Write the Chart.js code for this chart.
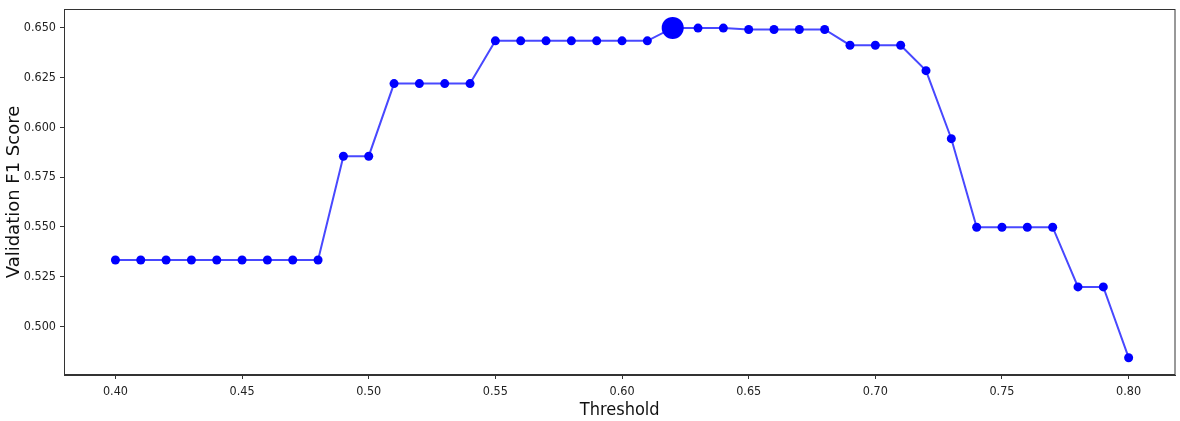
<!DOCTYPE html>
<html>
<head>
<meta charset="utf-8">
<script src="https://cdn.jsdelivr.net/npm/chart.js@4"></script>
<style>
  html, body { margin: 0; padding: 0; background: #fff; overflow: hidden; }
  canvas { display: block; }
</style>
</head>
<body>
<canvas id="f1" width="1180" height="421"></canvas>
<script>
const thresholds = [0.40,0.41,0.42,0.43,0.44,0.45,0.46,0.47,0.48,0.49,0.50,0.51,0.52,0.53,0.54,0.55,0.56,0.57,0.58,0.59,0.60,
  0.61,0.62,0.63,0.64,0.65,0.66,0.67,0.68,0.69,0.70,0.71,0.72,0.73,0.74,0.75,0.76,0.77,0.78,0.79,0.80]
const scores = [0.5333,0.5333,0.5333,0.5333,0.5333,0.5333,0.5333,0.5333,0.5333,0.5855,0.5855,
  0.622,0.622,0.622,0.622,0.6435,0.6435,0.6435,0.6435,0.6435,0.6435,0.6435,
  0.650,0.6499,0.6499,0.6492,0.6492,0.6492,0.6492,0.6413,0.6413,0.6413,0.6285,0.5943,
  0.5498,0.5498,0.5498,0.5498,0.5198,0.5198,0.4842]
const bestThreshold = 0.62
const xTicks = [0.40,0.45,0.50,0.55,0.60,0.65,0.70,0.75,0.80]
const yTicks = [0.500,0.525,0.550,0.575,0.600,0.625,0.650]

const frame = {
  id: 'frame',
  afterDraw(chart) {
    const a = chart.chartArea, c = chart.ctx
    c.save()
    c.strokeStyle = '#333'
    c.lineWidth = 1
    c.strokeRect(a.left + 0.5, a.top + 0.5, a.right - a.left - 1, a.bottom - a.top - 1)
    c.restore()
  }
}

const tickFont = { family: "'Liberation Sans Narrow', 'DejaVu Sans Condensed', 'Roboto Condensed', sans-serif", size: 12.5 }

const ctx = document.getElementById('f1')
new Chart(ctx, {
  type: 'line',
  data: {
    datasets: [{
      label: 'F1',
      data: thresholds.map((t, i) => ({ x: t, y: scores[i] })),
      borderColor: 'rgba(40, 40, 255, 0.85)',
      borderWidth: 2,
      pointBackgroundColor: '#0000ff',
      pointBorderColor: '#0000ff',
      pointBorderWidth: 0,
      pointRadius: thresholds.map(t => Math.abs(t - bestThreshold) < 1e-9 ? 11 : 4.5),
      tension: 0,
      fill: false
    }]
  },
  options: {
    responsive: false,
    animation: false,
    layout: { padding: { top: 9, right: 0, left: 0, bottom: 0 } },
    plugins: { legend: { display: false }, tooltip: { enabled: false } },
    scales: {
      x: {
        type: 'linear',
        min: 0.3797,
        max: 0.8185,
        afterBuildTicks: s => { s.ticks = xTicks.map(v => ({ value: v })) },
        afterFit: s => { s.height = 46; s.paddingRight = 0; s.paddingLeft = 0 },
        grid: { drawOnChartArea: false, drawTicks: true, tickLength: 4, color: '#333' },
        border: { color: '#333' },
        ticks: { color: '#222', font: tickFont, padding: 5, callback: v => v.toFixed(2) },
        title: { display: true, text: 'Threshold', color: '#111', padding: { top: 4, bottom: 0 },
          font: { family: "'Liberation Sans Narrow', 'DejaVu Sans Condensed', sans-serif", size: 18 } }
      },
      y: {
        min: 0.4755,
        max: 0.6595,
        afterBuildTicks: s => { s.ticks = yTicks.map(v => ({ value: v })) },
        afterFit: s => { s.width = 64; s.paddingTop = 0; s.paddingBottom = 0 },
        grid: { drawOnChartArea: false, drawTicks: true, tickLength: 4, color: '#333' },
        border: { color: '#333' },
        ticks: { color: '#222', font: tickFont, padding: 4, callback: v => v.toFixed(3) },
        title: { display: true, text: 'Validation F1 Score', color: '#111', padding: { bottom: 0, top: 4 },
          font: { family: "'DejaVu Sans', 'Verdana', sans-serif", size: 18 } }
      }
    }
  },
  plugins: [frame]
})
</script>
</body>
</html>
